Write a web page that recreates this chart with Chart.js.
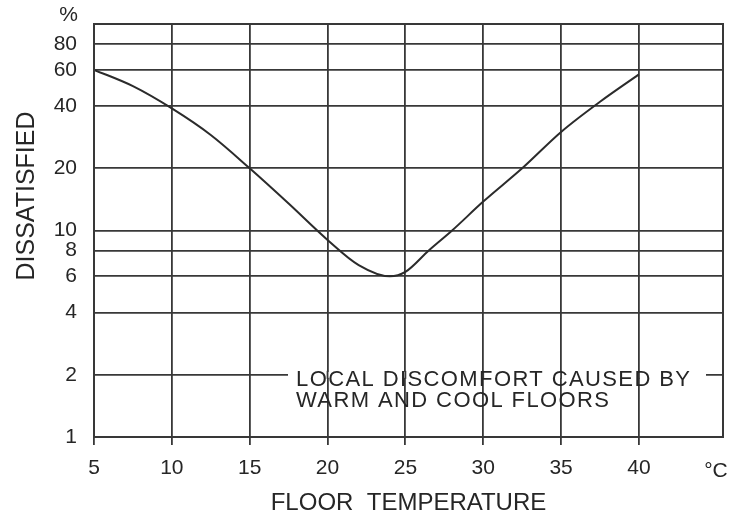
<!DOCTYPE html>
<html>
<head>
<meta charset="utf-8">
<script src="https://cdn.jsdelivr.net/npm/chart.js@4/dist/chart.umd.min.js"></script>
<style>
  html, body { margin: 0; padding: 0; background: #fff; }
  #wrap { width: 731px; height: 518px; }
</style>
</head>
<body>
<div id="wrap"><canvas id="floorChart"></canvas></div>
<script>
// values
const floorTemp = [5, 7.5, 10, 12.5, 15, 17.5, 20, 22, 24, 25, 26.5, 28, 30, 32.5, 35, 37.5, 40];
const dissatisfied = [60, 50, 39, 29, 20, 13.5, 9, 6.8, 6, 6.3, 8, 10, 13.8, 20, 30, 42, 57];
const xTicks = [5, 10, 15, 20, 25, 30, 35, 40];
const yTicks = [1, 2, 4, 6, 8, 10, 20, 40, 60, 80, 100];
const noteLines = ['LOCAL DISCOMFORT CAUSED BY', 'WARM AND COOL FLOORS'];

const ink = '#262626';
const gridInk = '#383838';
const fontFam = '"Liberation Sans", Arial, Helvetica, sans-serif';

const extras = {
  id: 'extras',
  afterDraw(chart) {
    const c = chart.ctx;
    const a = chart.chartArea;
    const xs = chart.scales.x;
    const ys = chart.scales.y;
    c.save();

    // frame
    c.strokeStyle = gridInk;
    c.lineWidth = 2;
    c.strokeRect(a.left, a.top, a.right - a.left, a.bottom - a.top);

    // break the 2% line where the note sits
    const y2 = ys.getPixelForValue(2);
    c.fillStyle = '#fff';
    c.fillRect(288, y2 - 3, 706 - 288, 6);
    c.strokeStyle = gridInk;
    c.lineWidth = 1.8;
    xTicks.forEach(v => {
      const px = xs.getPixelForValue(v);
      if (px > 288 && px < 706) {
        c.beginPath();
        c.moveTo(px, y2 - 4);
        c.lineTo(px, y2 + 4);
        c.stroke();
      }
    });

    // note
    c.fillStyle = ink;
    c.font = '22px ' + fontFam;
    c.letterSpacing = '1.4px';
    c.textAlign = 'left';
    c.textBaseline = 'middle';
    c.fillText(noteLines[0], 296, 380);
    c.fillText(noteLines[1], 296, 401);
    c.letterSpacing = '0px';

    // unit labels
    c.font = '21px ' + fontFam;
    c.textAlign = 'right';
    c.fillText('%', 78, 15);
    c.textAlign = 'center';
    c.fillText('°C', 716, 471);

    // y title
    c.font = '25px ' + fontFam;
    c.translate(27, 196);
    c.rotate(-Math.PI / 2);
    c.fillText('DISSATISFIED', 0, 0);
    c.restore();
  }
};

new Chart(document.getElementById('floorChart'), {
  type: 'line',
  data: {
    datasets: [{
      data: floorTemp.map((t, i) => ({ x: t, y: dissatisfied[i] })),
      borderColor: '#2b2b2b',
      borderWidth: 2,
      pointRadius: 0,
      fill: false,
      tension: 0.4,
      cubicInterpolationMode: 'monotone'
    }]
  },
  options: {
    responsive: true,
    maintainAspectRatio: false,
    animation: false,
    layout: { padding: { top: 24, right: 8, left: 0, bottom: 0 } },
    plugins: { legend: { display: false }, tooltip: { enabled: false } },
    scales: {
      x: {
        type: 'linear',
        min: 5,
        max: 45.4,
        afterBuildTicks: s => { s.ticks = xTicks.map(v => ({ value: v })); },
        afterFit: s => { s.height = 81; },
        grid: { color: gridInk, lineWidth: 1.8, tickLength: 8 },
        border: { color: gridInk, width: 2 },
        ticks: {
          color: ink, font: { family: fontFam, size: 21 },
          padding: 11, maxRotation: 0, autoSkip: false
        },
        title: {
          display: true, text: 'FLOOR  TEMPERATURE', color: ink,
          font: { family: fontFam, size: 24 }, padding: { top: 2, bottom: 0 }
        }
      },
      y: {
        type: 'logarithmic',
        min: 1,
        max: 100,
        afterBuildTicks: s => { s.ticks = yTicks.map(v => ({ value: v })); },
        afterFit: s => { s.width = 94; s.paddingTop = 0; s.paddingBottom = 0; },
        grid: { color: gridInk, lineWidth: 1.8, drawTicks: false },
        border: { color: gridInk, width: 2 },
        ticks: {
          color: ink, font: { family: fontFam, size: 21 }, padding: 17,
          autoSkip: false,
          callback: v => (v === 100 ? '' : String(v))
        }
      }
    }
  },
  plugins: [extras]
});
</script>
</body>
</html>
